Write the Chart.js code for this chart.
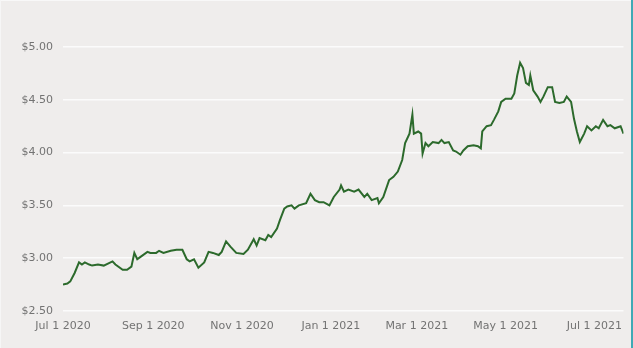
<!DOCTYPE html>
<html>
<head>
<meta charset="utf-8">
<script src="https://cdn.jsdelivr.net/npm/chart.js@4/dist/chart.umd.min.js"></script>
<style>
  html, body { margin: 0; padding: 0; background: #efedec; }
  #wrap { position: relative; width: 633px; height: 348px; overflow: hidden; background: #efedec; }
  #wrap canvas { position: absolute; left: 0; top: 0; }
  #edge { position: absolute; left: 631px; top: 0; width: 2px; height: 348px; background: #3fa9b5; }
  #topline { position: absolute; left: 0; top: 0; width: 631px; height: 1px; background: #f8f8f8; }
  #leftline { position: absolute; left: 0; top: 0; width: 1px; height: 348px; background: #f6f6f6; }
</style>
</head>
<body>
<div id="wrap">
  <canvas id="c" width="631" height="348"></canvas>
  <div id="topline"></div>
  <div id="leftline"></div>
  <div id="edge"></div>
</div>
<script>
// Closing prices, Jul 2020 - Jul 2021
const dates = [
  '2020-07-01','2020-07-04','2020-07-06','2020-07-09','2020-07-12','2020-07-14','2020-07-16','2020-07-19',
  '2020-07-21','2020-07-25','2020-07-29','2020-08-04','2020-08-06','2020-08-11','2020-08-14','2020-08-17',
  '2020-08-19','2020-08-21','2020-08-23','2020-08-28','2020-08-30','2020-09-03','2020-09-05','2020-09-08',
  '2020-09-13','2020-09-17','2020-09-21','2020-09-24','2020-09-26','2020-09-29','2020-10-02','2020-10-06',
  '2020-10-09','2020-10-12','2020-10-16','2020-10-18','2020-10-21','2020-10-24','2020-10-28','2020-11-02',
  '2020-11-05','2020-11-09','2020-11-11','2020-11-13','2020-11-17','2020-11-19','2020-11-21','2020-11-25',
  '2020-11-27','2020-11-30','2020-12-02','2020-12-05','2020-12-07','2020-12-10','2020-12-15','2020-12-18',
  '2020-12-21','2020-12-24','2020-12-27','2020-12-31','2021-01-03','2021-01-07','2021-01-08','2021-01-10',
  '2021-01-13','2021-01-17','2021-01-20','2021-01-24','2021-01-26','2021-01-29','2021-02-02','2021-02-03',
  '2021-02-06','2021-02-10','2021-02-13','2021-02-16','2021-02-19','2021-02-21','2021-02-24','2021-02-26',
  '2021-02-27','2021-03-02','2021-03-04','2021-03-05','2021-03-07','2021-03-09','2021-03-12','2021-03-16',
  '2021-03-18','2021-03-20','2021-03-23','2021-03-26','2021-03-28','2021-03-31','2021-04-02','2021-04-05',
  '2021-04-09','2021-04-12','2021-04-14','2021-04-15','2021-04-18','2021-04-21','2021-04-23','2021-04-26',
  '2021-04-28','2021-05-01','2021-05-05','2021-05-07','2021-05-09','2021-05-11','2021-05-13','2021-05-15',
  '2021-05-17','2021-05-18','2021-05-20','2021-05-23','2021-05-25','2021-05-27','2021-05-30','2021-06-02',
  '2021-06-04','2021-06-07','2021-06-10','2021-06-12','2021-06-15','2021-06-17','2021-06-19','2021-06-21',
  '2021-06-24','2021-06-26','2021-06-29','2021-07-02','2021-07-04','2021-07-07','2021-07-10','2021-07-12',
  '2021-07-15','2021-07-19','2021-07-21'
];
const prices = [
  2.75, 2.76, 2.78, 2.86, 2.96, 2.94, 2.96, 2.94,
  2.93, 2.94, 2.93, 2.97, 2.94, 2.89, 2.89, 2.92,
  3.05, 2.99, 3.01, 3.06, 3.05, 3.05, 3.07, 3.05,
  3.07, 3.08, 3.08, 2.99, 2.97, 2.99, 2.91, 2.96,
  3.06, 3.05, 3.03, 3.06, 3.16, 3.11, 3.05, 3.04,
  3.08, 3.18, 3.12, 3.19, 3.17, 3.22, 3.20, 3.28,
  3.36, 3.47, 3.49, 3.50, 3.47, 3.50, 3.52, 3.61,
  3.55, 3.53, 3.53, 3.50, 3.58, 3.65, 3.69, 3.63,
  3.65, 3.63, 3.65, 3.58, 3.61, 3.55, 3.57, 3.52,
  3.58, 3.74, 3.77, 3.82, 3.93, 4.09, 4.18, 4.36,
  4.18, 4.20, 4.18, 3.99, 4.09, 4.06, 4.10, 4.09,
  4.12, 4.09, 4.10, 4.02, 4.01, 3.98, 4.02, 4.06,
  4.07, 4.06, 4.04, 4.20, 4.25, 4.26, 4.31, 4.39,
  4.48, 4.51, 4.51, 4.56, 4.73, 4.85, 4.80, 4.66,
  4.64, 4.73, 4.59, 4.53, 4.48, 4.53, 4.62, 4.62,
  4.48, 4.47, 4.48, 4.53, 4.48, 4.32, 4.20, 4.10,
  4.18, 4.25, 4.21, 4.25, 4.23, 4.31, 4.25, 4.26,
  4.23, 4.25, 4.18
];

// Axis ticks
const xTickDates = ['2020-07-01','2020-09-01','2020-11-01','2021-01-01','2021-03-01','2021-05-01','2021-07-01'];
const xTickLabels = ['Jul 1 2020','Sep 1 2020','Nov 1 2020','Jan 1 2021','Mar 1 2021','May 1 2021','Jul 1 2021'];
const yTicks = [2.5, 3.0, 3.5, 4.0, 4.5, 5.0];

const DAY = 86400000;
const origin = Date.parse(dates[0]);
const dayOf = s => (Date.parse(s) - origin) / DAY;

const points = dates.map((d, i) => ({ x: dayOf(d), y: prices[i] }));
const xTickDays = xTickDates.map(dayOf);

const font = { family: "'DejaVu Sans', sans-serif", size: 11 };

new Chart(document.getElementById('c'), {
  type: 'line',
  data: {
    datasets: [{
      data: points,
      borderColor: '#2c6a2c',
      borderWidth: 2,
      pointRadius: 0,
      tension: 0,
      fill: false
    }]
  },
  options: {
    responsive: false,
    animation: false,
    layout: { padding: { top: 47, right: 0, bottom: 0, left: 0 } },
    plugins: { legend: { display: false }, tooltip: { enabled: false } },
    scales: {
      x: {
        type: 'linear',
        min: 0,
        max: points[points.length - 1].x,
        grid: { display: false, drawTicks: false },
        border: { display: false },
        afterBuildTicks: s => { s.ticks = xTickDays.map(v => ({ value: v })); },
        afterFit: s => { s.height = 37; },
        ticks: {
          autoSkip: false,
          maxRotation: 0,
          padding: 9,
          color: '#737373',
          font,
          callback: v => xTickLabels[xTickDays.indexOf(v)]
        }
      },
      y: {
        min: 2.5,
        max: 5.0,
        grid: { color: '#fbfbfb', lineWidth: 1.5, drawTicks: false },
        border: { display: false },
        afterBuildTicks: s => { s.ticks = yTicks.map(v => ({ value: v })); },
        afterFit: s => { s.width = 63; },
        ticks: {
          padding: 10,
          color: '#737373',
          font,
          callback: v => '$' + Number(v).toFixed(2)
        }
      }
    }
  }
});
</script>
</body>
</html>
